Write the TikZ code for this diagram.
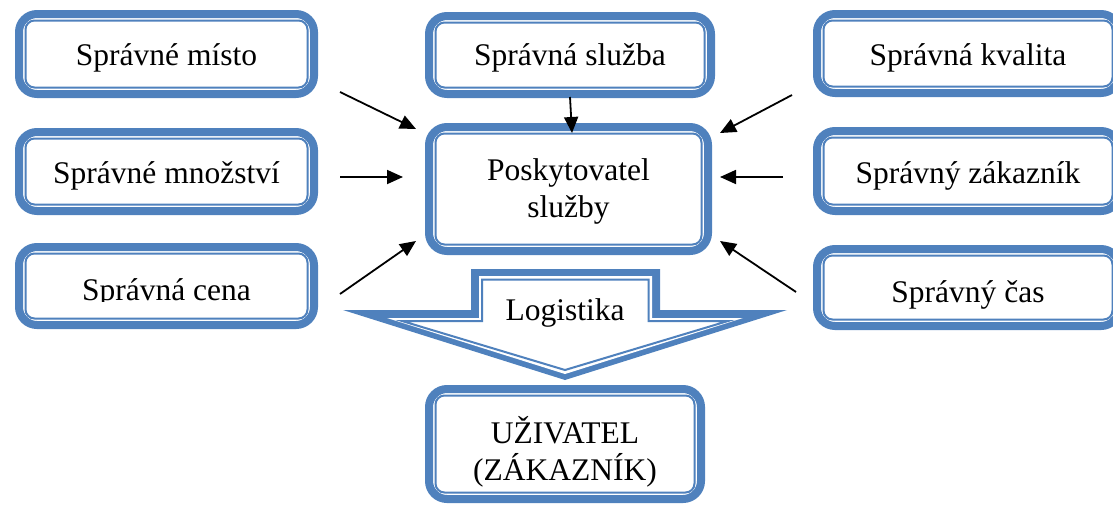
\documentclass[tikz,border=0pt]{standalone}
\usepackage{fontspec}
\setmainfont{Liberation Serif}
\usetikzlibrary{arrows.meta}
\definecolor{wblue}{RGB}{79,129,189}
\tikzset{
  frameo/.style={draw=wblue, line width=8pt, rounded corners=18pt, inner sep=0pt, fill=white},
  framei/.style={draw=wblue, line width=2pt, rounded corners=9pt, inner sep=0pt},
  txt/.style={anchor=base, inner sep=0pt, font=\fontsize{31.5}{37}\selectfont},
  arr/.style={-{Triangle[length=16pt,width=14pt]}, line width=1.8pt, black},
}
\newcommand\dbox[5]{%
  \node[frameo, minimum width={(#4-8)*1pt}, minimum height={(#5-8)*1pt}] (#1) at (#2,#3) {};
  \node[framei, minimum width={(#4-21)*1pt}, minimum height={(#5-21)*1pt}] (#1-in) at (#2,#3) {};
}
\begin{document}
\begin{tikzpicture}[x=1pt,y=-1pt]
\useasboundingbox (0,0) rectangle (1113,504);
% boxes
\dbox{m1}{166.5}{54}{303}{88}
\dbox{m2}{166.5}{171.5}{303}{87}
\dbox{m3}{166.5}{286}{303}{86}
\dbox{s}{570}{55}{290}{86}
\dbox{c}{568.5}{189}{287}{132}
\dbox{u}{565}{444}{280}{118}
\dbox{r1}{968}{53.5}{310}{87}
\dbox{r2}{968}{171}{310}{88}
\dbox{r3}{968}{287.5}{310}{85}
% texts
\node[txt] (t-m1) at (166.5,65) {Správné místo};
\node[txt] (t-m2) at (166.5,183) {Správné množství};
\begin{scope}
  \clip (15,243) rectangle (318,301);
  \node[txt] (t-m3) at (166.5,300) {Správná cena};
\end{scope}
\node[txt] (t-s) at (570,65) {Správná služba};
\node[txt] (t-c1) at (568.5,180) {Poskytovatel};
\node[txt] (t-c2) at (568.5,217) {služby};
\node[txt] (t-u1) at (565,443) {UŽIVATEL};
\node[txt] (t-u2) at (565,480) {(ZÁKAZNÍK)};
\node[txt] (t-r1) at (968,65) {Správná kvalita};
\node[txt] (t-r2) at (968,183) {Správný zákazník};
\node[txt] (t-r3) at (968,302) {Správný čas};
% block arrow
\fill[wblue] (471,269) -- (660,269) -- (660,310) -- (787,310) -- (565,380) -- (343,310) -- (471,310) -- cycle;
\fill[white] (479,276) -- (652,276) -- (652,318) -- (743,318) -- (565,374) -- (387,318) -- (479,318) -- cycle;
\draw[wblue, line width=2pt] (482,279.5) -- (648.5,279.5) -- (648.5,321) -- (728,321) -- (565,370) -- (402,321) -- (482,321) -- cycle;
\node[txt] (t-log) at (565,320) {Logistika};
% arrows
\coordinate (a1s) at (340,92);  \coordinate (a1e) at (416,129);
\coordinate (a2s) at (340,177); \coordinate (a2e) at (403,177);
\coordinate (a3s) at (340,294); \coordinate (a3e) at (416,241);
\coordinate (a4s) at (570,97);  \coordinate (a4e) at (572,133);
\coordinate (a5s) at (792,95);  \coordinate (a5e) at (720,133);
\coordinate (a6s) at (783,177); \coordinate (a6e) at (720,177);
\coordinate (a7s) at (796,292); \coordinate (a7e) at (720,241);
\draw[arr] (a1s) -- (a1e);
\draw[arr] (a2s) -- (a2e);
\draw[arr] (a3s) -- (a3e);
\draw[arr] (a4s) -- (a4e);
\draw[arr] (a5s) -- (a5e);
\draw[arr] (a6s) -- (a6e);
\draw[arr] (a7s) -- (a7e);
\end{tikzpicture}
\end{document}
